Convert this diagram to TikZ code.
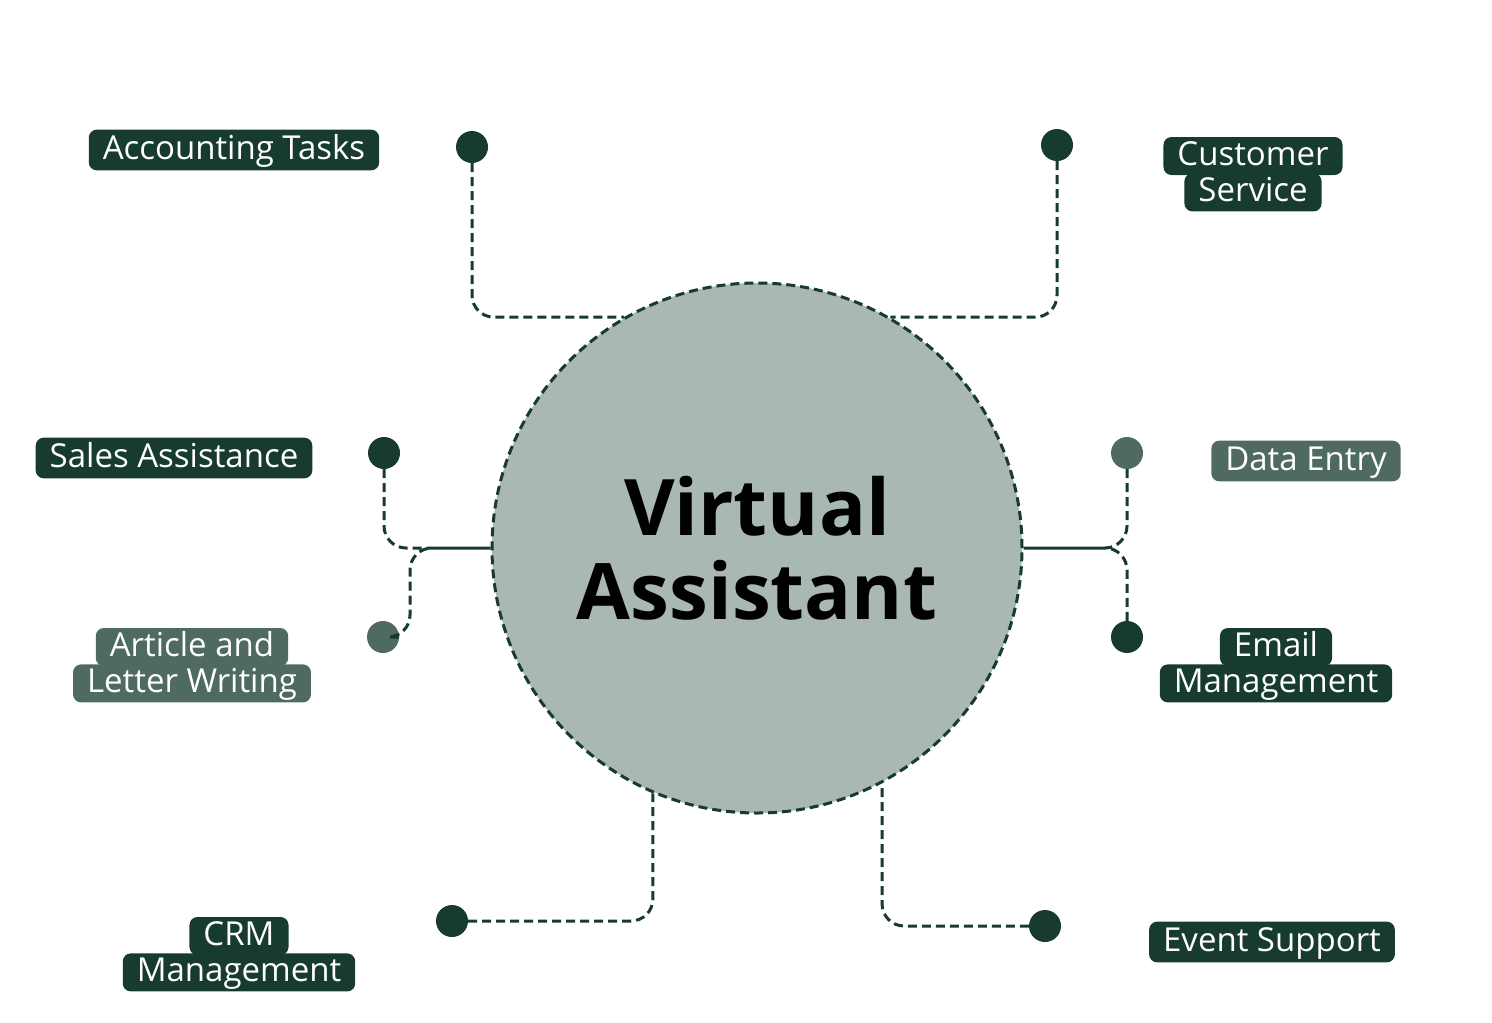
\documentclass[tikz,border=0pt]{standalone}
\usepackage{fontspec}
\setmainfont{Open Sans}
\usetikzlibrary{positioning}
\definecolor{darkgreen}{HTML}{173B2D}
\definecolor{lightgreen}{HTML}{4F6B60}
\definecolor{circlefill}{HTML}{A9B8B2}
\tikzstyle{tag} = [fill = darkgreen, text = white, rounded corners = 8pt, inner xsep = 14pt, font = \fontsize{33}{36}\selectfont]
\tikzstyle{tagline} = [tag, text height = 26pt, text depth = 8pt, inner ysep = 2pt]
\tikzstyle{dot} = [circle, fill = darkgreen, minimum size = 32pt, inner sep = 0pt]
\tikzstyle{link} = [draw = darkgreen, line width = 3pt, dash pattern = on 9pt off 5pt, rounded corners = 22pt]
\begin{document}
\begin{tikzpicture}[x = 1pt, y = -1pt]
			\useasboundingbox (0,0) rectangle (1492,1023);
			\node[circle, fill = circlefill, draw = darkgreen, line width = 3pt, dash pattern = on 9pt off 5pt, minimum size = 530pt, inner sep = 0pt, align = center, font = \fontsize{78}{84}\selectfont\bfseries] (va) at (757,548) {Virtual\\Assistant};
			% labels
			\node[tag, text height = 26pt, text depth = 8pt] (acc) at (234,150) {Accounting Tasks};
			\node[tagline] (cs1) at (1253,156) {Customer};
			\node[tagline, below = -2pt of cs1] (cs2) {Service};
			\node[tag, text height = 26pt, text depth = 8pt] (sales) at (174,458) {Sales Assistance};
			\node[tag, fill = lightgreen, text height = 26pt, text depth = 8pt] (data) at (1306,461) {Data Entry};
			\node[tagline, fill = lightgreen] (art1) at (192,647) {Article and};
			\node[tagline, fill = lightgreen, below = -2pt of art1] (art2) {Letter Writing};
			\node[tagline] (em1) at (1276,647) {Email};
			\node[tagline, below = -2pt of em1] (em2) {Management};
			\node[tagline] (crm1) at (239,936) {CRM};
			\node[tagline, below = -2pt of crm1] (crm2) {Management};
			\node[tag, text height = 26pt, text depth = 8pt] (event) at (1272,942) {Event Support};
			% dots
			\node[dot] (dacc) at (472,147) {};
			\node[dot] (dcs) at (1057,145) {};
			\node[dot] (dsales) at (384,453) {};
			\node[dot, fill = lightgreen] (ddata) at (1127,453) {};
			\node[dot, fill = lightgreen] (dart) at (383,637) {};
			\node[dot] (dem) at (1127,637) {};
			\node[dot] (dcrm) at (452,921) {};
			\node[dot] (devent) at (1045,926) {};
			% connectors
			\coordinate (art) at (410,637);
			\path[link]
			(dacc) |- (va.120)
			(dcs) |- (va.60)
			(dsales) |- (va.west)
			(dart) -- (art) |- (va.west)
			(ddata) |- (va.east)
			(dem) |- (va.east)
			(dcrm) -| (va.-113)
			(devent) -| (va.-62);
		\end{tikzpicture}
\end{document}
